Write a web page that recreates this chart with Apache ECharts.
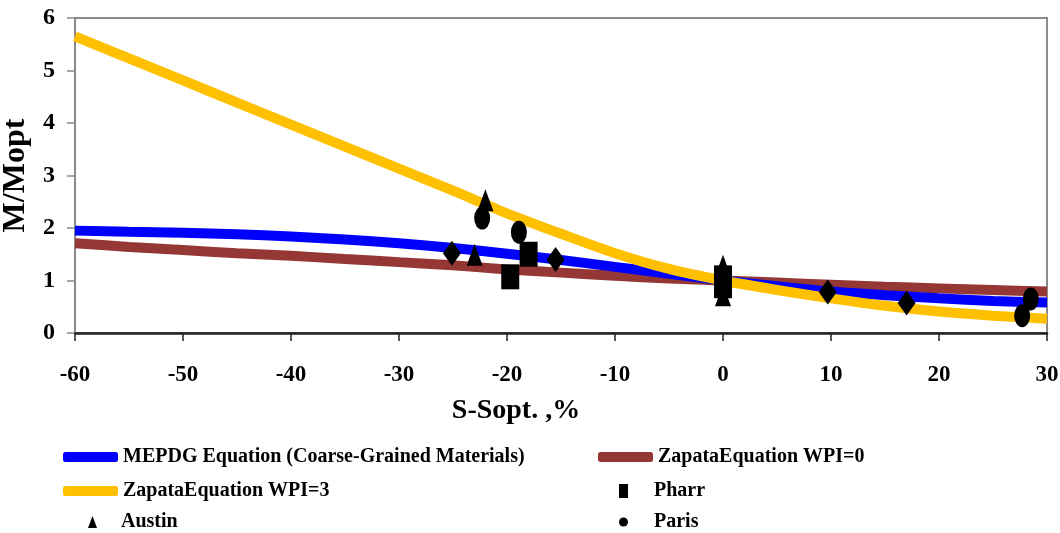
<!DOCTYPE html>
<html>
<head>
<meta charset="utf-8">
<script src="https://cdn.jsdelivr.net/npm/echarts@6/dist/echarts.min.js"></script>
<style>
html,body{margin:0;padding:0;background:#fff;}
#chart{width:1060px;height:533px;}
</style>
</head>
<body>
<div id="chart"></div>
<script>
// ---- Data ----
const sGrid = [-60,-55,-50,-45,-40,-35,-30,-25,-20,-15,-10,-5,0,5,10,15,20,25,30];
const mepdg = [1.95,1.93,1.91,1.88,1.84,1.78,1.71,1.62,1.51,1.39,1.26,1.13,1.00,0.89,0.79,0.72,0.66,0.61,0.58];
const zapataWPI0 = [1.71,1.64,1.58,1.52,1.47,1.41,1.35,1.29,1.21,1.15,1.09,1.04,1.00,0.96,0.92,0.88,0.85,0.82,0.79];
const zapataWPI3 = [5.65,5.23,4.81,4.39,3.97,3.55,3.13,2.71,2.28,1.89,1.52,1.22,1.00,0.82,0.66,0.52,0.41,0.33,0.27];

const pharrX = [-18.0,-19.7,0,0];
const pharrY = [1.50,1.07,1.05,0.90];
const austinX = [-22.0,-23.0,0,0];
const austinY = [2.53,1.49,1.28,0.72];
const parisX = [-22.3,-18.9,0,28.5,27.7];
const parisY = [2.19,1.92,1.00,0.65,0.33];
const otherX = [-25.1,-15.5,0,9.7,17.0];
const otherY = [1.52,1.40,1.10,0.78,0.57];

const xTicks = {min:-60, max:30, interval:10};
const yTicks = {min:0, max:6, interval:1};

const names = {
  mepdg: 'MEPDG Equation (Coarse-Grained Materials)',
  w0: 'ZapataEquation WPI=0',
  w3: 'ZapataEquation WPI=3',
  pharr: 'Pharr',
  austin: 'Austin',
  paris: 'Paris',
  other: 'Other'
};

function zip(xs, ys){ return xs.map((x,i)=>[x, ys[i]]); }

const FONT = 'Liberation Serif';
const chart = echarts.init(document.getElementById('chart'));

function legendItem(name, left, top, w, h, icon, padLeft){
  return {
    data: [{name: name, icon: icon}],
    left: left, top: top, padding: 0,
    itemWidth: w, itemHeight: h,
    selectedMode: false,
    textStyle: {fontFamily: FONT, fontWeight: 'bold', fontSize: 20, color: '#000', lineHeight: 24,
      padding: [0,0,0,padLeft||0]}
  };
}

const markerStyle = {color: '#000', opacity: 1};

const option = {
  backgroundColor: '#fff',
  animation: false,
  grid: {left: 75, right: 13, top: 18, bottom: 200, show: true, borderColor: '#666', borderWidth: 1.5,
    containLabel: false, outerBoundsMode: 'none'},
  xAxis: {
    type: 'value', min: xTicks.min, max: xTicks.max, interval: xTicks.interval,
    name: 'S-Sopt. ,%', nameLocation: 'middle', nameGap: 64,
    nameTextStyle: {fontFamily: FONT, fontWeight: 'bold', fontSize: 28, color: '#000', padding: [0, 90, 0, 0]},
    axisLine: {show: true, onZero: false, lineStyle: {color: '#222', width: 2.5}},
    axisTick: {show: true, inside: false, length: 8, lineStyle: {color: '#222', width: 1.5}},
    axisLabel: {fontFamily: FONT, fontWeight: 'bold', fontSize: 23, color: '#000', margin: 31},
    splitLine: {show: false}
  },
  yAxis: {
    type: 'value', min: yTicks.min, max: yTicks.max, interval: yTicks.interval,
    name: 'M/Mopt', nameLocation: 'middle', nameGap: 33, nameRotate: 90,
    nameTextStyle: {fontFamily: FONT, fontWeight: 'bold', fontSize: 32, color: '#000'},
    axisLine: {show: true, onZero: false, lineStyle: {color: '#888', width: 2}},
    axisTick: {show: true, inside: false, length: 8, lineStyle: {color: '#888', width: 1.5}},
    axisLabel: {fontFamily: FONT, fontWeight: 'bold', fontSize: 24, color: '#000', margin: 20},
    splitLine: {show: false}
  },
  legend: [
    legendItem(names.mepdg, 63, 445, 55, 10, 'roundRect'),
    legendItem(names.w3, 63, 479, 55, 10, 'roundRect'),
    legendItem(names.austin, 88, 510, 9, 12, 'triangle', 19),
    legendItem(names.w0, 598, 445, 55, 10, 'roundRect'),
    legendItem(names.pharr, 619, 479, 9, 14, 'rect', 21),
    legendItem(names.paris, 619, 510, 9, 13, 'circle', 21)
  ],
  series: [
    {name: names.w0, type: 'line', data: zip(sGrid, zapataWPI0), smooth: 0.3, showSymbol: false,
      color: '#953735', lineStyle: {color: '#953735', width: 10}, z: 2},
    {name: names.mepdg, type: 'line', data: zip(sGrid, mepdg), smooth: 0.3, showSymbol: false,
      color: '#0000FF', lineStyle: {color: '#0000FF', width: 10}, z: 3},
    {name: names.w3, type: 'line', data: zip(sGrid, zapataWPI3), smooth: 0.3, showSymbol: false,
      color: '#FFC000', lineStyle: {color: '#FFC000', width: 10}, z: 4},
    {name: names.pharr, type: 'scatter', data: zip(pharrX, pharrY), symbol: 'rect', symbolSize: [18,25],
      color: '#000', itemStyle: markerStyle, z: 5},
    {name: names.austin, type: 'scatter', data: zip(austinX, austinY), symbol: 'triangle', symbolSize: [16,22],
      color: '#000', itemStyle: markerStyle, z: 5},
    {name: names.paris, type: 'scatter', data: zip(parisX, parisY), symbol: 'circle', symbolSize: [16,23],
      color: '#000', itemStyle: markerStyle, z: 5},
    {name: names.other, type: 'scatter', data: zip(otherX, otherY), symbol: 'diamond', symbolSize: [18,25],
      color: '#000', itemStyle: markerStyle, z: 5}
  ]
};
chart.setOption(option);
</script>
</body>
</html>
